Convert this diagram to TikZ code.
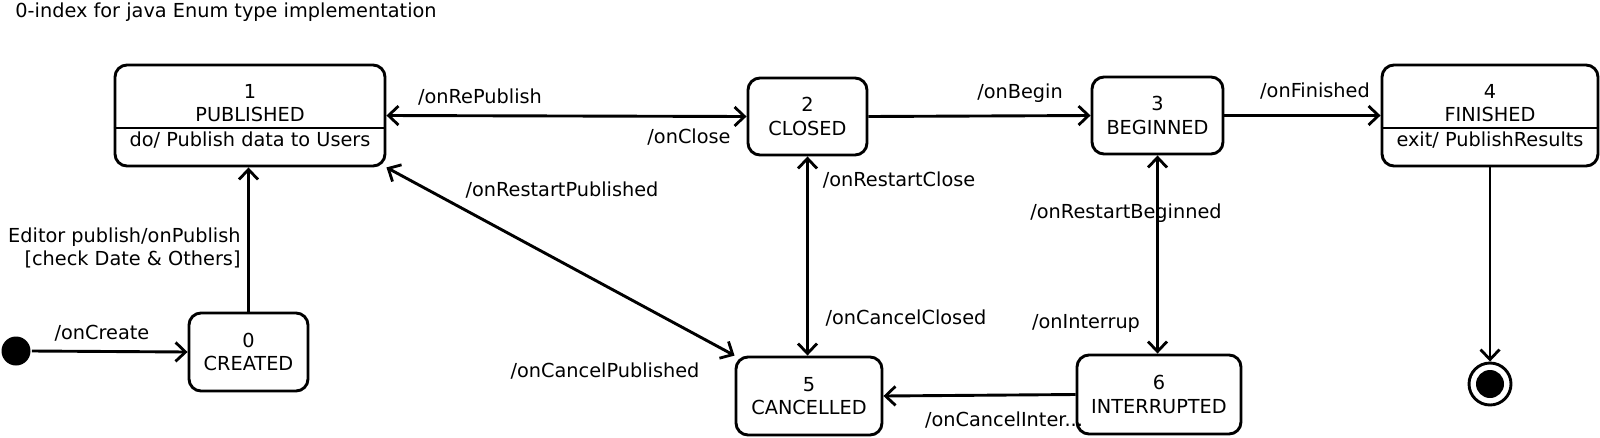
\documentclass[tikz,border=0pt]{standalone}
\usepackage{fontspec}
\setmainfont{DejaVu Sans}
\usetikzlibrary{arrows.meta}
\tikzset{
  state/.style={draw, rounded corners=12pt, inner sep=0pt},
  txt/.style={inner sep=0pt, font=\fontsize{19.3}{23.5}\selectfont, align=center},
  lbl/.style={txt},
  tip/.style={Straight Barb[length=10pt,width=19pt,line width=2.8pt]},
  arr/.style={-{Straight Barb[length=10pt,width=19pt,line width=2.8pt]}},
  barr/.style={{Straight Barb[length=10pt,width=19pt,line width=2.8pt]}-{Straight Barb[length=10pt,width=19pt,line width=2.8pt]}},
}
\begin{document}
\begin{tikzpicture}[x=1pt,y=-1pt,line width=2.9pt]
\path[use as bounding box] (0,0) rectangle (1600,437);
% title
\node[txt, anchor=west] (title) at (14,12) {0-index for java Enum type implementation};
% states
\node[state, minimum width=270pt, minimum height=101pt] (pub) at (250,115.5) {};
\draw[line width=2.4pt] (pub.west |- 0,128) -- (pub.east |- 0,128);
\node[txt] (pubt) at (250,103) {1\\PUBLISHED};
\node[txt] (pubd) at (250,140) {do/ Publish data to Users};

\node[state, txt, minimum width=119pt, minimum height=77pt] (closed) at (807.5,116.5) {2\\CLOSED};
\node[state, txt, minimum width=131pt, minimum height=77pt] (beg) at (1157.5,115.5) {3\\BEGINNED};

\node[state, minimum width=216pt, minimum height=101pt] (fin) at (1490,115.5) {};
\draw[line width=2.4pt] (fin.west |- 0,128) -- (fin.east |- 0,128);
\node[txt] (fint) at (1490,103) {4\\FINISHED};
\node[txt] (find) at (1490,140) {exit/ PublishResults};

\node[state, txt, minimum width=119pt, minimum height=78pt] (created) at (248.5,352) {0\\CREATED};
\node[state, txt, minimum width=146pt, minimum height=78pt] (canc) at (809,396) {5\\CANCELLED};
\node[state, txt, minimum width=164pt, minimum height=79pt] (intr) at (1159,394.5) {6\\INTERRUPTED};

\node[circle, fill=black, minimum size=29pt, inner sep=0pt] (init) at (16,351) {};
\node[circle, draw, minimum size=42pt, inner sep=0pt] (final) at (1490,384) {};
\node[circle, fill=black, minimum size=28pt, inner sep=0pt] (finalin) at (1490,384) {};

% connectors
\draw[arr] (init.east) -- (created.west);
\draw[arr] (created.north) -- (created.north |- pub.south);
\draw[barr] (pub.east) -- (closed.west);
\draw[arr] (closed.east) -- (beg.west);
\draw[arr] (beg.east) -- (fin.west);
\draw[barr] (pub.south east) -- (canc.north west);
\draw[barr] (closed.south) -- (closed.south |- canc.north);
\draw[barr] (beg.south) -- (beg.south |- intr.north);
\draw[arr] (intr.west) -- (canc.east);
\draw[arr] (fin.south) -- (final.north);

% labels
\node[lbl] (l0) at (102,333) {/onCreate};
\node[lbl, anchor=east, align=right] (l1) at (242,248) {Editor publish/onPublish\\ \ [check Date \& Others]};
\node[lbl] (l2) at (480,97) {/onRePublish};
\node[lbl] (l3) at (689,137) {/onClose};
\node[lbl] (l4) at (1020,93) {/onBegin};
\node[lbl] (l5) at (1315,91) {/onFinished};
\node[lbl] (l6) at (562,190) {/onRestartPublished};
\node[lbl] (l7) at (605,371) {/onCancelPublished};
\node[lbl] (l8) at (899,180) {/onRestartClose};
\node[lbl] (l9) at (906,318) {/onCancelClosed};
\node[lbl] (l10) at (1126,213) {/onRestartBeginned};
\node[lbl] (l11) at (1086,323) {/onInterrup};
\node[lbl] (l12) at (1004,420) {/onCancelInter...};
\end{tikzpicture}
\end{document}
